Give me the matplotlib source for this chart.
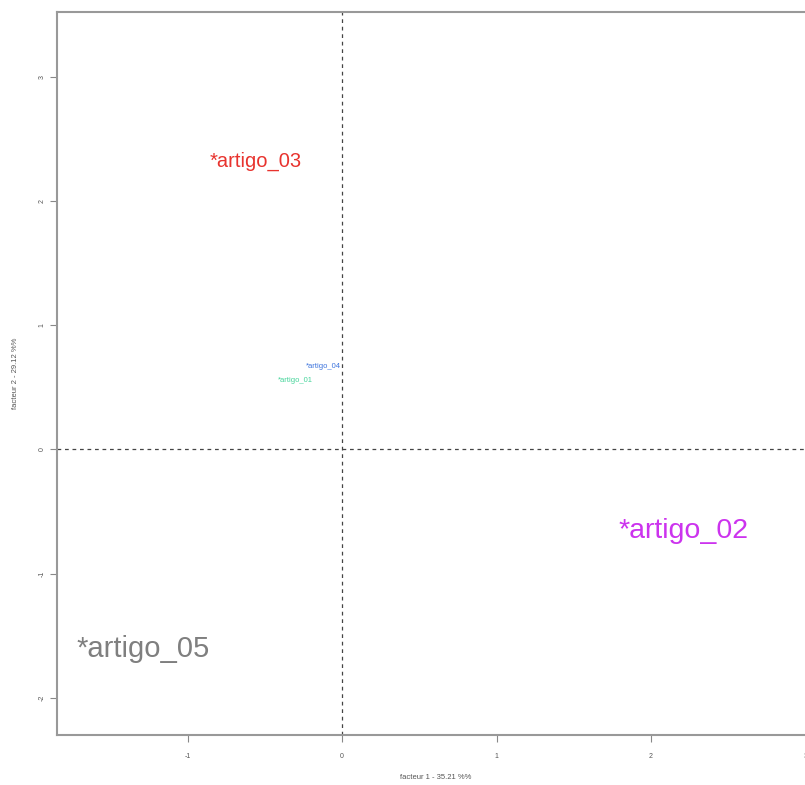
import matplotlib.pyplot as plt

# article coordinates on the first two factors
labels = ["*artigo_01", "*artigo_02", "*artigo_03", "*artigo_04", "*artigo_05"]
fact1 = [-0.30, 2.21, -0.56, -0.12, -1.29]
fact2 = [0.55, -0.66, 2.32, 0.67, -1.61]
sizes = [5.5, 20.5, 14.5, 5.5, 21]
colors = ["#45d49a", "#cc33ee", "#e8332e", "#3d74dd", "#7f7f7f"]

xticks = [-1, 0, 1, 2, 3]
yticks = [-2, -1, 0, 1, 2, 3]

plt.rcParams['font.family'] = ['Liberation Sans', 'DejaVu Sans']

fig = plt.figure(figsize=(8.05, 7.85), dpi=100)
ax = fig.add_axes([57/805, 50/785, (815-57)/805, (735-12)/785])

for lab, x, y, s, c in zip(labels, fact1, fact2, sizes, colors):
    ax.text(x, y, lab, fontsize=s, color=c, ha="center", va="center")

ax.axhline(0, color="#444444", lw=0.9, ls=(0, (3, 3)))
ax.axvline(0, color="#444444", lw=0.9, ls=(0, (3, 3)))

ax.set_xlim(-1.845, (815-342)/154.5)
ax.set_ylim(-2.30, 3.52)
ax.set_xticks(xticks)
ax.set_yticks(yticks)
ax.set_xticklabels([str(t) for t in xticks])
ax.set_yticklabels([str(t) for t in yticks], rotation=90, va="center")
ax.tick_params(labelsize=5, length=5, color="#888888", labelcolor="#555555")
ax.tick_params(axis="x", pad=8)
ax.tick_params(axis="y", pad=3)

for sp in ax.spines.values():
    sp.set_color("#999999")
    sp.set_linewidth(1.5)

ax.set_xlabel("facteur 1 - 35.21 %%", fontsize=5.5, color="#555555", labelpad=10)
ax.set_ylabel("facteur 2 - 29.12 %%", fontsize=5.5, color="#555555", labelpad=14)

fig.savefig("out.png", dpi=100)
